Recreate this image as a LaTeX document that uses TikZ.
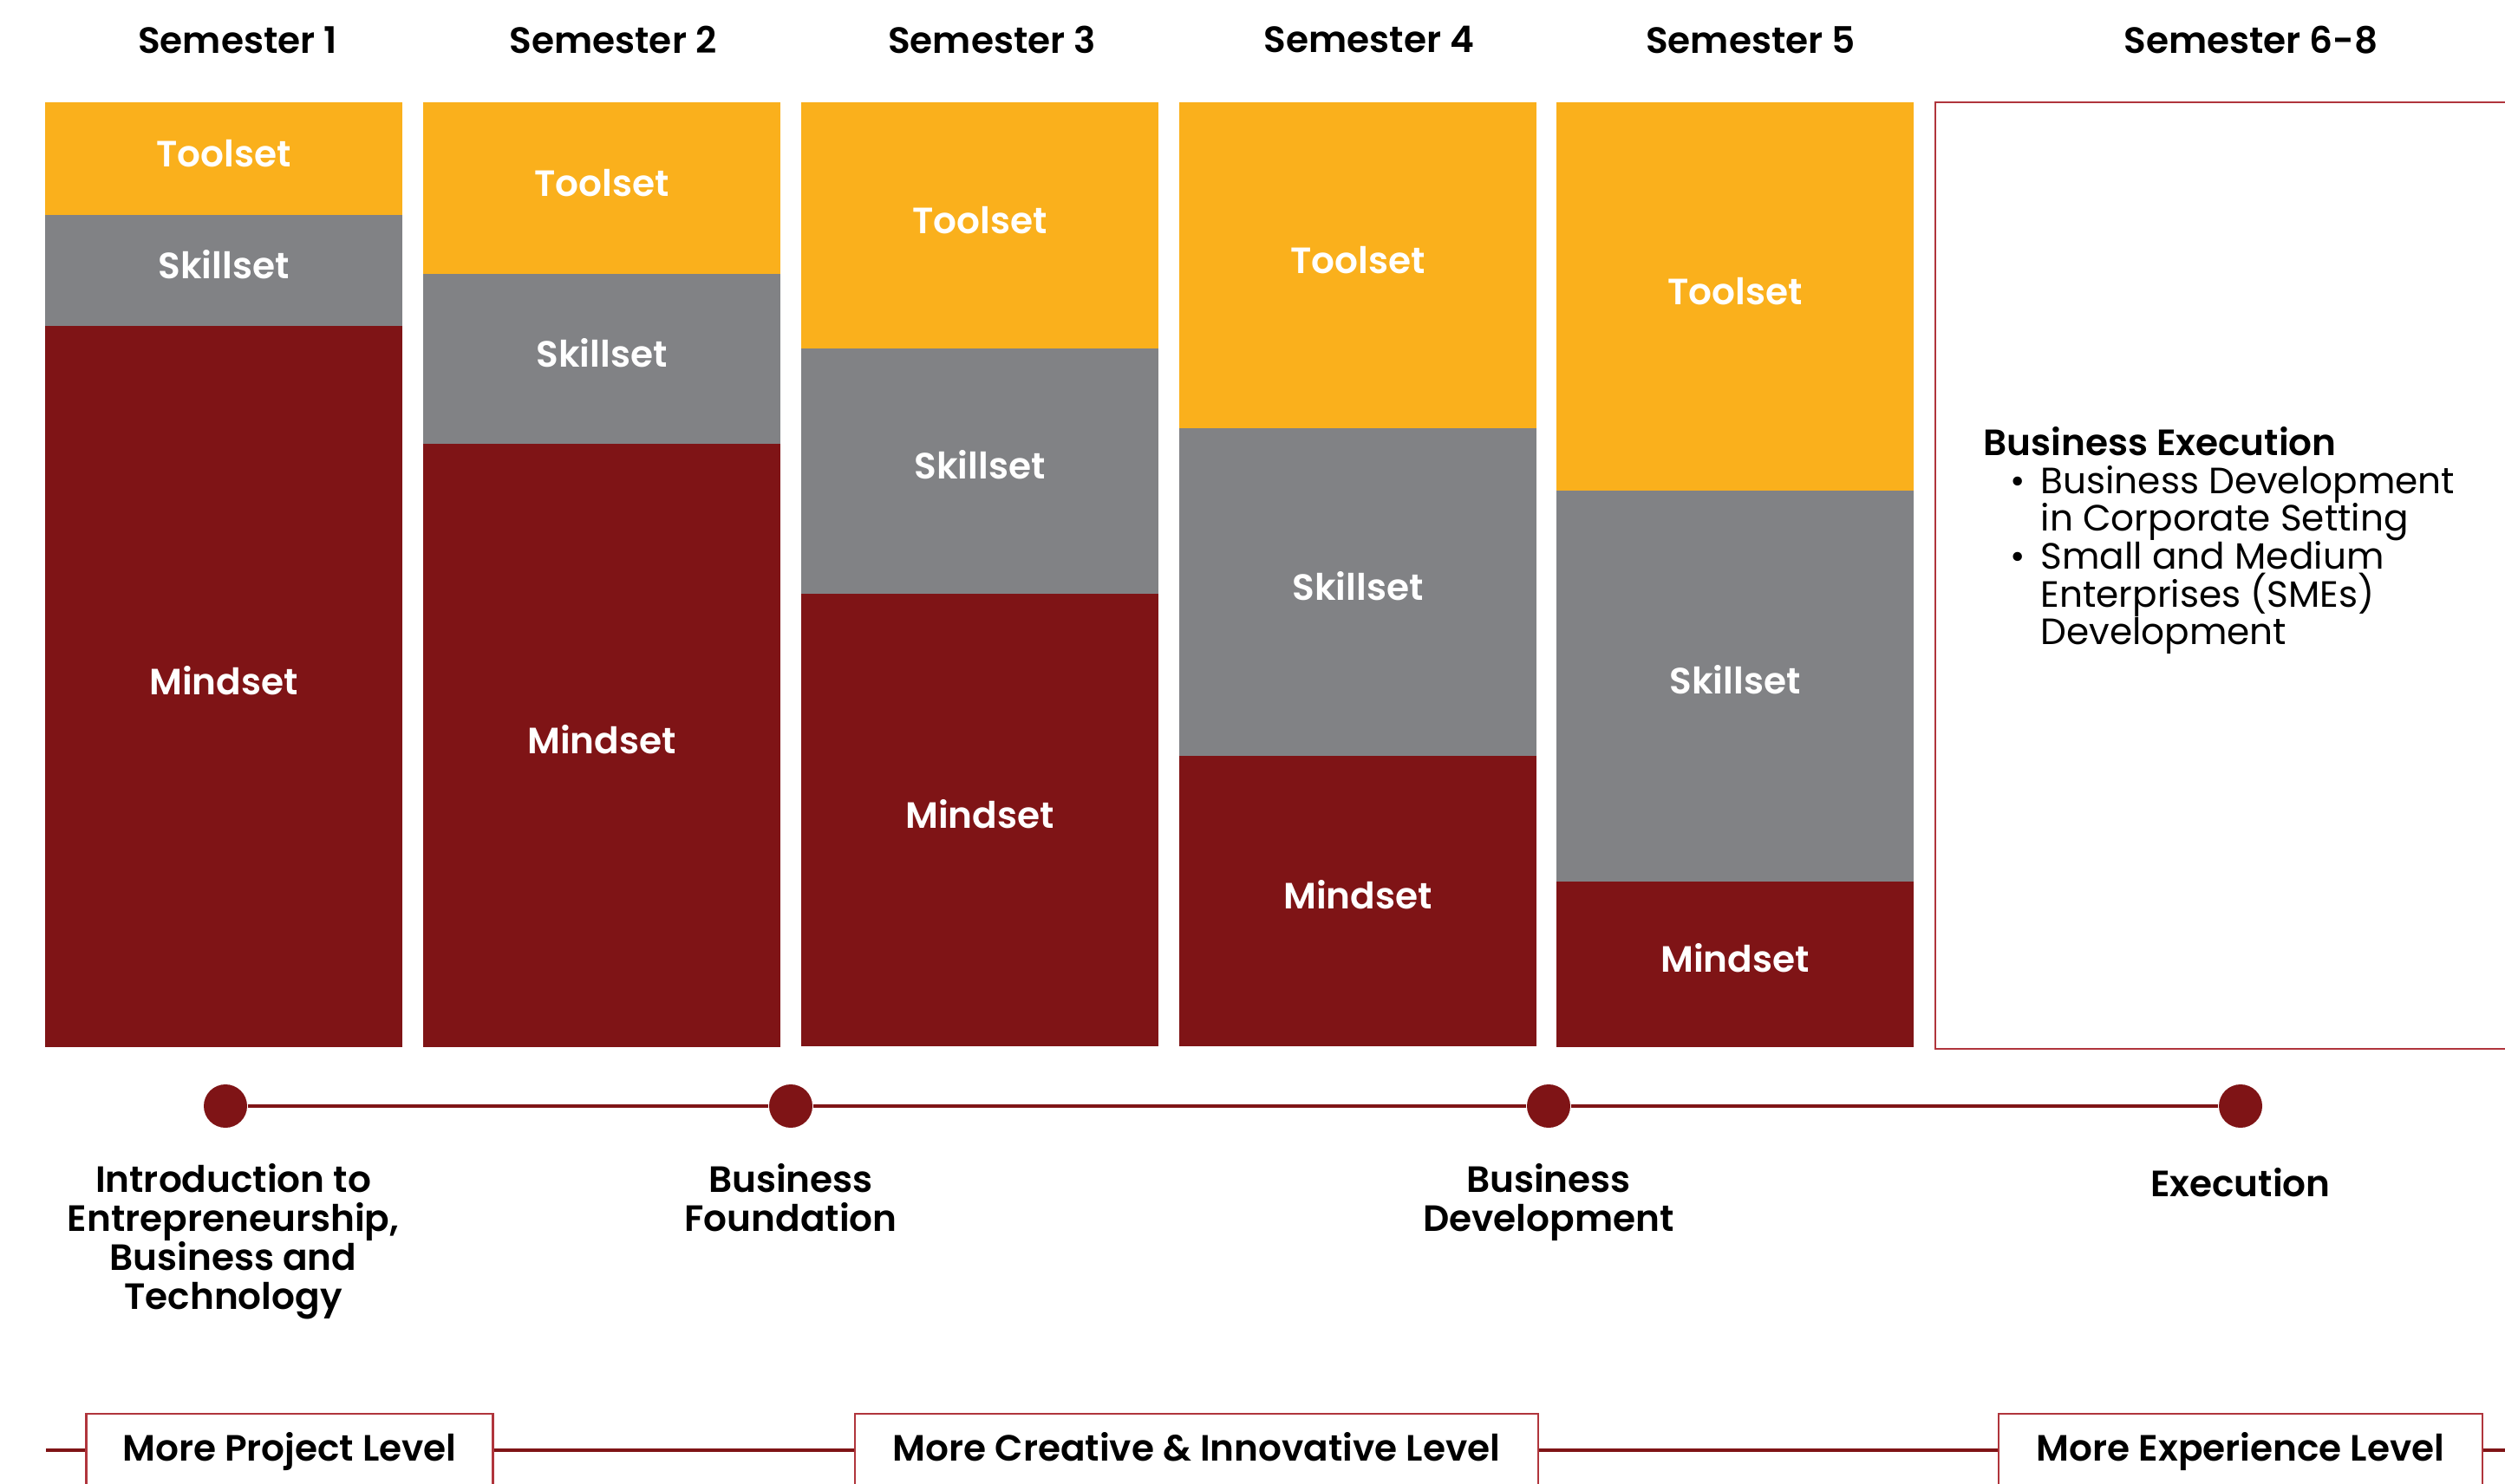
\documentclass[tikz,border=0pt]{standalone}
\usepackage{fontspec}
\setmainfont{Poppins}[BoldFont={Poppins SemiBold}]
\usetikzlibrary{positioning}

\definecolor{toolgold}{HTML}{FAB01C}
\definecolor{skillgray}{HTML}{818285}
\definecolor{mindred}{HTML}{7F1416}
\definecolor{thinred}{HTML}{B0353C}

\newcommand{\tightlines}{\lineskiplimit=-20pt\relax}

\tikzset{
  seg/.style={minimum width=4.1cm, inner sep=0pt, anchor=north, text=white,
    text height=0.73em, text depth=0.2em,
    line width=0.3pt, font=\bfseries\fontsize{12}{12}\selectfont},
  tool/.style={seg, fill=toolgold, draw=toolgold},
  skill/.style={seg, fill=skillgray, draw=skillgray},
  mind/.style={seg, fill=mindred, draw=mindred},
  semlabel/.style={font=\bfseries\fontsize{12}{12}\selectfont},
  stage/.style={align=center, font=\fontsize{12}{12.8}\selectfont\bfseries},
  milestone/.style={circle, fill=mindred, inner sep=0pt, minimum size=0.5cm},
  level/.style={draw=thinred, line width=0.6pt, fill=white, minimum height=0.84cm,
    inner sep=0pt, text height=0.9em, text depth=0.2em,
    font=\bfseries\fontsize{12}{12}\selectfont},
}

\begin{document}
\begin{tikzpicture}
    \useasboundingbox[fill=white] (0,0) rectangle (28.89,-17.12);

    % Semester titles
    \node[semlabel] (sem1) at (2.74,-0.46) {Semester 1};
    \node[semlabel] (sem2) at (7.07,-0.46) {Semester 2};
    \node[semlabel] (sem3) at (11.44,-0.46) {Semester 3};
    \node[semlabel] (sem4) at (15.79,-0.46) {Semester 4};
    \node[semlabel] (sem5) at (20.19,-0.46) {Semester 5};
    \node[semlabel] (sem6) at (25.96,-0.46) {Semester 6-8};

    % Semester 1
    \node[tool, minimum height=1.29cm] (tool1) at (2.58,-1.18) {Toolset};
    \node[skill, minimum height=1.27cm, below=0pt of tool1] (skill1) {Skillset};
    \node[mind, minimum height=8.31cm, below=0pt of skill1] (mind1) {Mindset};

    % Semester 2
    \node[tool, minimum height=1.97cm] (tool2) at (6.94,-1.18) {Toolset};
    \node[skill, minimum height=1.95cm, below=0pt of tool2] (skill2) {Skillset};
    \node[mind, minimum height=6.95cm, below=0pt of skill2] (mind2) {Mindset};

    % Semester 3
    \node[tool, minimum height=2.83cm] (tool3) at (11.30,-1.18) {Toolset};
    \node[skill, minimum height=2.82cm, below=0pt of tool3] (skill3) {Skillset};
    \node[mind, minimum height=5.21cm, below=0pt of skill3] (mind3) {Mindset};

    % Semester 4
    \node[tool, minimum height=3.75cm] (tool4) at (15.66,-1.18) {Toolset};
    \node[skill, minimum height=3.77cm, below=0pt of tool4] (skill4) {Skillset};
    \node[mind, minimum height=3.34cm, below=0pt of skill4] (mind4) {Mindset};

    % Semester 5
    \node[tool, minimum height=4.47cm] (tool5) at (20.01,-1.18) {Toolset};
    \node[skill, minimum height=4.50cm, below=0pt of tool5] (skill5) {Skillset};
    \node[mind, minimum height=1.90cm, below=0pt of skill5] (mind5) {Mindset};

    % Semester 6-8
    \draw[thinred, line width=0.6pt] (22.32,-1.18) rectangle (29.40,-12.10);
    \node[anchor=north west, align=left, inner sep=0pt,
          font={\fontsize{12}{12.4}\selectfont\tightlines}] (exec) at (22.87,-4.92)
      {{\bfseries Business Execution}\\
       \hspace*{0.31cm}\makebox[0.35cm][l]{\textbullet}Business Development\\
       \hspace*{0.66cm}in Corporate Setting\\
       \hspace*{0.31cm}\makebox[0.35cm][l]{\textbullet}Small and Medium\\
       \hspace*{0.66cm}Enterprises (SMEs)\\
       \hspace*{0.66cm}Development};

    % Timeline
    \node[milestone] (dot1) at (2.60,-12.76) {};
    \node[milestone] (dot2) at (9.12,-12.76) {};
    \node[milestone] (dot3) at (17.86,-12.76) {};
    \node[milestone] (dot4) at (25.84,-12.76) {};
    \draw[mindred, line width=1.2pt] (dot1) -- (dot2) -- (dot3) -- (dot4);

    \node[stage, anchor=north] (intro) at (2.69,-13.30)
      {Introduction to\\Entrepreneurship,\\Business and\\Technology};
    \node[stage, anchor=north] (found) at (9.12,-13.30) {Business\\Foundation};
    \node[stage, anchor=north] (devel) at (17.86,-13.30) {Business\\Development};
    \node[stage, anchor=north] (execu) at (25.84,-13.35) {Execution};

    % Levels
    \coordinate (lstart) at (0.53,-16.73);
    \coordinate (lend) at (29.20,-16.73);
    \node[level, minimum width=4.69cm] (proj) at (3.34,-16.73) {More Project Level};
    \node[level, minimum width=7.88cm] (crea) at (13.80,-16.73) {More Creative \& Innovative Level};
    \node[level, minimum width=5.58cm] (expe) at (25.84,-16.73) {More Experience Level};
    \draw[mindred, line width=1pt] (lstart) -- (proj) -- (crea) -- (expe) -- (lend);
\end{tikzpicture}
\end{document}
